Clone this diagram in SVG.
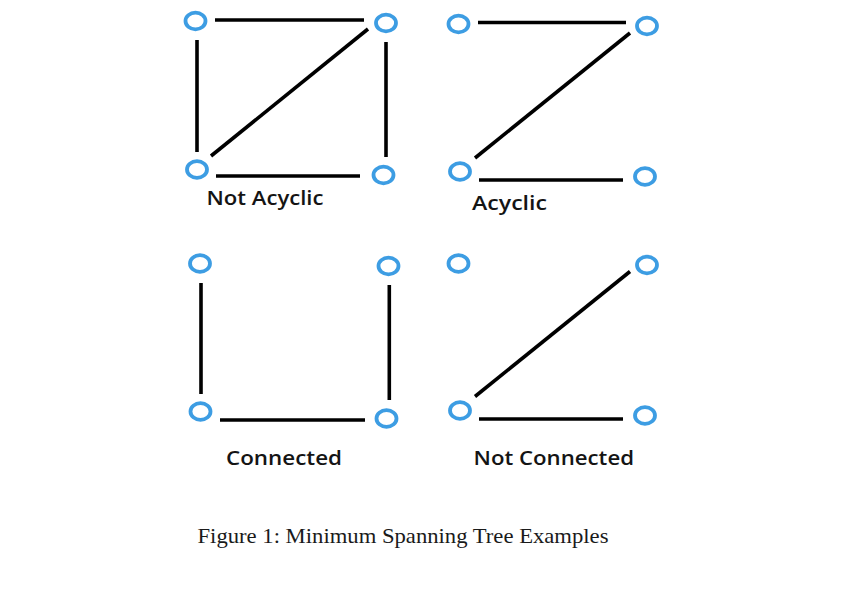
<svg xmlns="http://www.w3.org/2000/svg" width="848" height="611" viewBox="0 0 848 611">
<style>
.n{fill:none;stroke:#3d9de3;stroke-width:3.8}
.e{stroke:#000;stroke-width:3.6;stroke-linecap:butt;fill:none}
.lbl{font-family:"Open Sans","Noto Sans",sans-serif;font-size:19.5px;font-weight:600;fill:#141414}
.cap{font-family:"Liberation Serif",serif;font-size:21px;fill:#1a1a1a}
</style>
<rect width="848" height="611" fill="#fff"/>
<g id="connectors">
<line class="e" x1="215" y1="20" x2="364" y2="20"/>
<line class="e" x1="197" y1="40" x2="197" y2="152"/>
<line class="e" x1="386" y1="42" x2="386" y2="157"/>
<line class="e" x1="216" y1="176" x2="360" y2="176"/>
<line class="e" x1="211" y1="156" x2="368" y2="29"/>
<line class="e" x1="478" y1="22.5" x2="626" y2="22.5"/>
<line class="e" x1="475" y1="158" x2="630" y2="33"/>
<line class="e" x1="479" y1="180" x2="623" y2="180"/>
<line class="e" x1="201" y1="283" x2="201" y2="394"/>
<line class="e" x1="389.3" y1="285" x2="389.3" y2="400"/>
<line class="e" x1="220" y1="420" x2="365" y2="420"/>
<line class="e" x1="475" y1="396.5" x2="630" y2="271.5"/>
<line class="e" x1="479" y1="419" x2="623" y2="419"/>
</g>
<g id="g1-tl"><ellipse class="n" cx="195.5" cy="21" rx="10" ry="8.3"/></g>
<g id="g1-tr"><ellipse class="n" cx="386" cy="23" rx="10" ry="8.3"/></g>
<g id="g1-bl"><ellipse class="n" cx="197" cy="169.5" rx="10" ry="8.3"/></g>
<g id="g1-br"><ellipse class="n" cx="383.5" cy="175" rx="10" ry="8.3"/></g>
<g id="g2-tl"><ellipse class="n" cx="458.5" cy="24" rx="10" ry="8.3"/></g>
<g id="g2-tr"><ellipse class="n" cx="647" cy="26" rx="10" ry="8.3"/></g>
<g id="g2-bl"><ellipse class="n" cx="460" cy="171.5" rx="10" ry="8.3"/></g>
<g id="g2-br"><ellipse class="n" cx="645" cy="176.5" rx="10" ry="8.3"/></g>
<g id="g3-tl"><ellipse class="n" cx="200" cy="263.5" rx="10" ry="8.3"/></g>
<g id="g3-tr"><ellipse class="n" cx="388.5" cy="266" rx="10" ry="8.3"/></g>
<g id="g3-bl"><ellipse class="n" cx="200.5" cy="411.5" rx="10" ry="8.3"/></g>
<g id="g3-br"><ellipse class="n" cx="386.5" cy="418.5" rx="10" ry="8.3"/></g>
<g id="g4-tl"><ellipse class="n" cx="458.5" cy="263.5" rx="10" ry="8.3"/></g>
<g id="g4-tr"><ellipse class="n" cx="647" cy="265" rx="10" ry="8.3"/></g>
<g id="g4-bl"><ellipse class="n" cx="460" cy="410.5" rx="10" ry="8.3"/></g>
<g id="g4-br"><ellipse class="n" cx="645" cy="415.5" rx="10" ry="8.3"/></g>
<g id="labels">
<text class="lbl" x="206.5" y="205" textLength="117" lengthAdjust="spacingAndGlyphs">Not Acyclic</text>
<text class="lbl" x="472" y="210" textLength="75" lengthAdjust="spacingAndGlyphs">Acyclic</text>
<text class="lbl" x="226" y="465" textLength="116" lengthAdjust="spacingAndGlyphs">Connected</text>
<text class="lbl" x="473.5" y="465" textLength="160.5" lengthAdjust="spacingAndGlyphs">Not Connected</text>
<text class="cap" x="197.5" y="543" textLength="411" lengthAdjust="spacingAndGlyphs">Figure 1: Minimum Spanning Tree Examples</text>
</g>
</svg>
